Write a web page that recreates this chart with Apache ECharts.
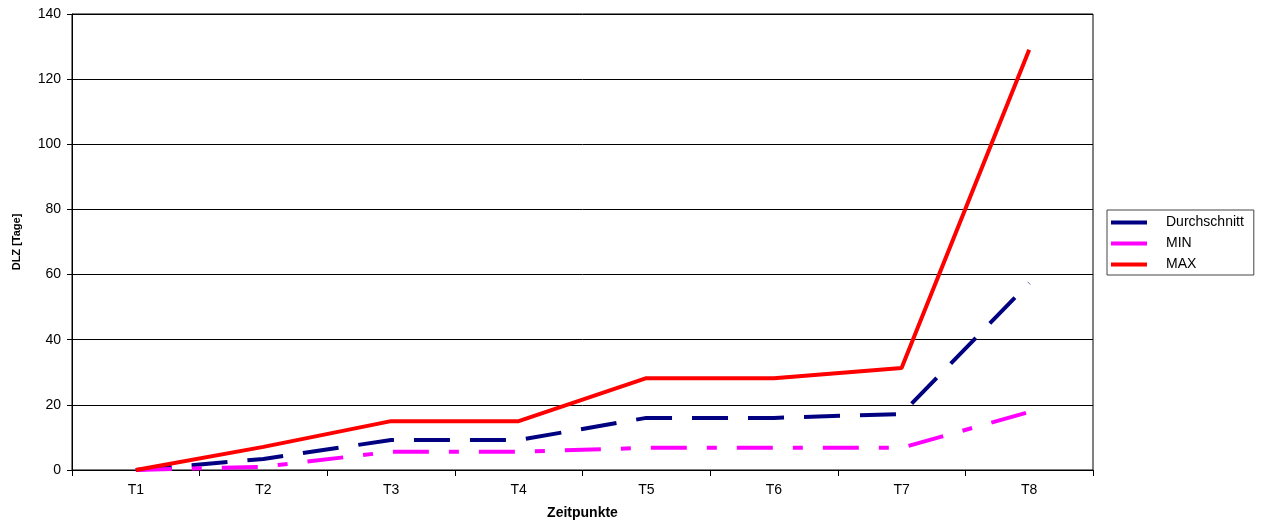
<!DOCTYPE html>
<html><head><meta charset="utf-8">
<script src="https://cdn.jsdelivr.net/npm/echarts@6/dist/echarts.min.js"></script>
<style>html,body{margin:0;padding:0;background:#fff}#c{width:1264px;height:524px}</style>
</head><body><div id="c"></div>
<script>
const categories = ['T1','T2','T3','T4','T5','T6','T7','T8'];
const durchschnitt = [0, 3.4, 9.2, 9.2, 16, 16, 17.2, 57.4];
const minVals = [0, 1, 5.6, 5.6, 6.8, 6.8, 6.8, 17.8];
const maxVals = [0, 7.1, 15, 15, 28.2, 28.2, 31.3, 129];
const yTicks = [0, 20, 40, 60, 80, 100, 120, 140];

const chart = echarts.init(document.getElementById('c'));
const font = 'Liberation Sans, Arial, sans-serif';
chart.setOption({
  animation: false,
  grid: {left: 72, right: 171, top: 14, bottom: 54, show: true, borderColor: '#000', borderWidth: 1,
         containLabel: false, outerBoundsMode: 'none'},
  xAxis: {
    type: 'category', data: categories, boundaryGap: true,
    name: 'Zeitpunkte', nameLocation: 'middle', nameGap: 36,
    nameTextStyle: {fontFamily: font, fontSize: 14, fontWeight: 'bold', color: '#000'},
    axisLine: {lineStyle: {color: '#000', width: 1}},
    axisTick: {show: true, length: 6, lineStyle: {color: '#000'}},
    axisLabel: {fontFamily: font, fontSize: 14, color: '#000', margin: 13}
  },
  yAxis: {
    type: 'value', min: yTicks[0], max: yTicks[yTicks.length-1], interval: 20,
    name: 'DLZ [Tage]', nameLocation: 'middle', nameGap: 50, nameRotate: 90,
    nameTextStyle: {fontFamily: font, fontSize: 11, fontWeight: 'bold', color: '#000'},
    axisLine: {show: true, lineStyle: {color: '#000', width: 1}},
    axisTick: {show: true, length: 5, lineStyle: {color: '#000'}},
    axisLabel: {fontFamily: font, fontSize: 14, color: '#000', margin: 11},
    splitLine: {lineStyle: {color: '#000', width: 1}}
  },
  legend: {
    orient: 'vertical', left: 1107, top: 210,
    data: ['Durchschnitt', 'MIN', 'MAX'],
    itemWidth: 36, itemHeight: 4, itemGap: 4, icon: 'rect',
    borderColor: '#444', borderWidth: 1, padding: [4, 10, 2, 4],
    textStyle: {fontFamily: font, fontSize: 14, color: '#000', lineHeight: 17, padding: [0, 0, 0, 14]},
    backgroundColor: '#fff'
  },
  series: [
    {name: 'Durchschnitt', type: 'line', data: durchschnitt, symbol: 'none', color: '#000080',
     lineStyle: {color: '#000080', width: 4, type: [36, 20]}},
    {name: 'MIN', type: 'line', data: minVals, symbol: 'none', color: '#ff00ff',
     lineStyle: {color: '#ff00ff', width: 4, type: [36, 20, 10, 20]}},
    {name: 'MAX', type: 'line', data: maxVals, symbol: 'none', color: '#ff0000',
     lineStyle: {color: '#ff0000', width: 4}}
  ]
});
</script></body></html>
